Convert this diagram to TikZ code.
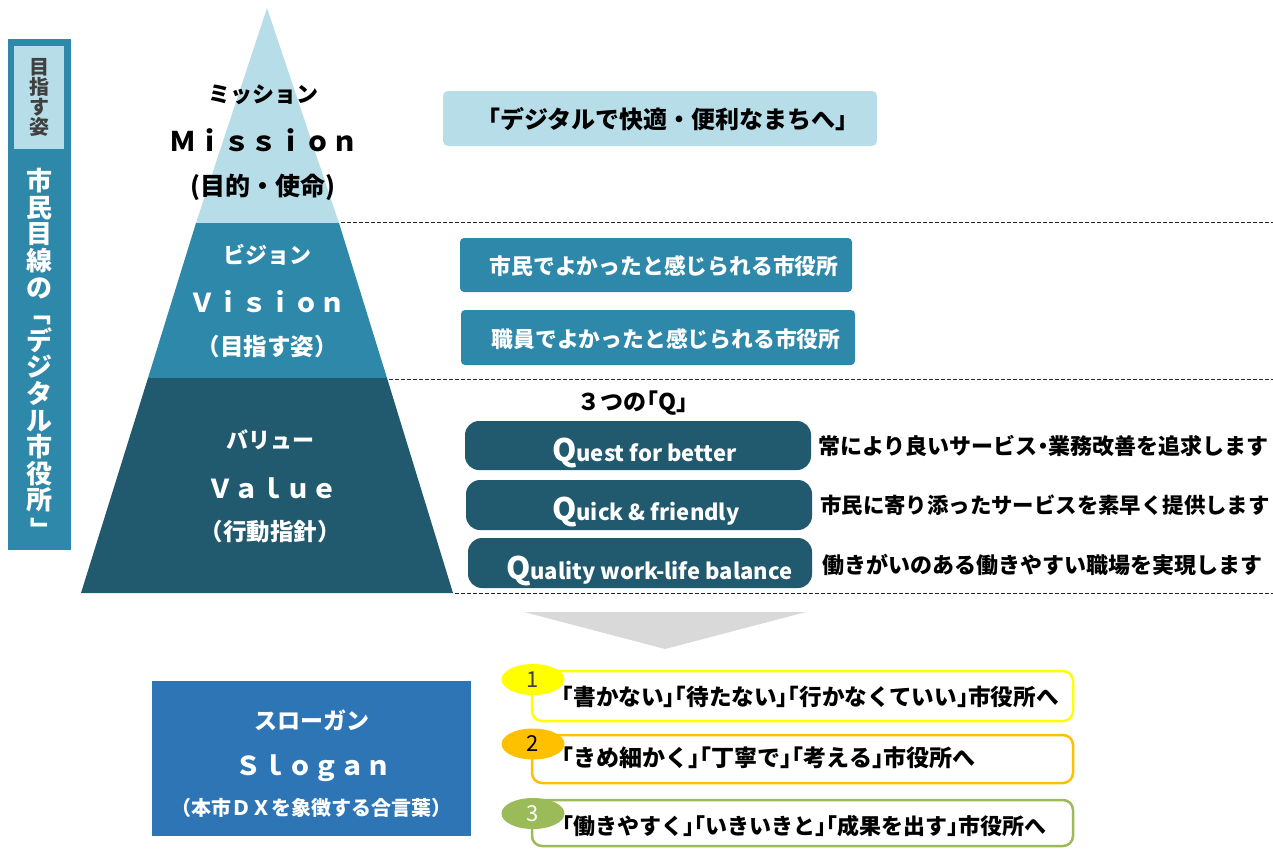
\documentclass[tikz,border=0pt]{standalone}
\usepackage{fontspec}
\usepackage{graphicx}
\setmainfont{Noto Sans CJK JP}
\newfontfamily\hjp{Noto Sans CJK JP}[RawFeature=+halt]
\usetikzlibrary{shapes.geometric}
\definecolor{misblue}{HTML}{B7DEE8}
\definecolor{visteal}{HTML}{2E88A9}
\definecolor{valdark}{HTML}{215A6E}
\definecolor{slogblue}{HTML}{2E75B6}
\definecolor{arrgray}{HTML}{D9D9D9}
\definecolor{ylw}{HTML}{FFFF00}
\definecolor{org}{HTML}{FFC000}
\definecolor{olv}{HTML}{9BBB59}
\newcommand{\fs}[1]{\fontsize{#1}{#1}\selectfont}
\newcommand{\bigQ}{{\fs{31}Q}}
\newcommand{\vbr}[1]{\rotatebox[origin=c]{-90}{#1}}
\begin{document}
\begin{tikzpicture}[x=1pt,y=-1pt]
    \tikzstyle{every node}=[inner sep=0pt,font=\bfseries]
    \tikzstyle{lbl}=[font=\bfseries\fs{22}]
    \tikzstyle{boxtext}=[font=\bfseries\fs{21.8}]
    \tikzstyle{halftext}=[font=\hjp\bfseries\fs{23}]
    \tikzstyle{sep}=[dash pattern=on 4pt off 2pt,line width=1pt,black!85]
    \tikzstyle{qbox}=[fill=valdark,rounded corners=14pt]
    \tikzstyle{sbox}=[line width=2.5pt,rounded corners=10pt,minimum width=541,fill=white]
    \tikzstyle{num}=[ellipse,minimum width=63,minimum height=31,font=\fs{22}]
    \useasboundingbox (0,0) rectangle (1273,849);
    % left bar
    \node[fill=visteal,minimum width=63,minimum height=511,anchor=north west] (bar) at (8,39) {};
    \node[fill=misblue,minimum width=50,minimum height=103,anchor=north west] (barhead) at (14,46) {};
    \node[text=black!75,align=center,font=\bfseries\fs{20}] (goal) at (barhead.center) {目\\指\\す\\姿};
    \node[text=white,align=center,font=\bfseries\fontsize{26}{26.6}\selectfont] (bartext) at (39.5,356)
        {市\\民\\目\\線\\の\\\vbr{「}\\デ\\ジ\\タ\\ル\\市\\役\\所\\\vbr{」}};
    % pyramid
    \fill[misblue] (267,8) -- (339,223) -- (196,223) -- cycle;
    \fill[visteal] (196,223) -- (339,223) -- (387,378) -- (148,378) -- cycle;
    \fill[valdark] (148,378) -- (387,378) -- (453,593) -- (81,593) -- cycle;
    \draw[sep] (341,222) -- (1273,222);
    \draw[sep] (389,379) -- (1273,379);
    \draw[sep] (455,593) -- (1273,593);
    \node[lbl] (mis1) at (263,95) {ミッション};
    \node[lbl,font=\bfseries\fs{27}] (mis2) at (264,140) {Ｍｉｓｓｉｏｎ};
    \node[lbl,font=\bfseries\fs{25}] (mis3) at (263,187) {(目的・使命)};
    \node[lbl,text=white] (vis1) at (267,255) {ビジョン};
    \node[lbl,text=white,font=\bfseries\fs{26}] (vis2) at (267,302) {Ｖｉｓｉｏｎ};
    \node[lbl,text=white,font=\bfseries\fs{23.5}] (vis3) at (267,347) {（目指す姿）};
    \node[lbl,text=white] (val1) at (270,440) {バリュー};
    \node[lbl,text=white,font=\bfseries\fs{26}] (val2) at (272,488) {Ｖａｌｕｅ};
    \node[lbl,text=white,font=\bfseries\fs{23.5}] (val3) at (270,532) {（行動指針）};
    % mission / vision boxes
    \node[fill=misblue,rounded corners=5pt,minimum width=434,minimum height=55] (mbox) at (660,118.5) {};
    \node[font=\bfseries\fs{24}] (mtext) at (668,119) {「デジタルで快適・便利なまちへ」};
    \node[fill=visteal,rounded corners=4pt,minimum width=392,minimum height=54] (vbox1) at (656,265) {};
    \node[boxtext,text=white] (vtext1) at (664,266) {市民でよかったと感じられる市役所};
    \node[fill=visteal,rounded corners=4pt,minimum width=394,minimum height=55] (vbox2) at (658,337.5) {};
    \node[boxtext,text=white] (vtext2) at (666,339) {職員でよかったと感じられる市役所};
    % value: three Q
    \node[halftext] (three) at (633,403) {３つの「Q」};
    \node[qbox,minimum width=346,minimum height=49] (q1) at (638,445.5) {};
    \node[qbox,minimum width=346,minimum height=50] (q2) at (639,505) {};
    \node[qbox,minimum width=344,minimum height=50] (q3) at (640,563) {};
    \node[text=white,font=\bfseries\fs{22},anchor=base west] (qt1) at (552,461) {\bigQ uest for better};
    \node[text=white,font=\bfseries\fs{22},anchor=base west] (qt2) at (552,520) {\bigQ uick \& friendly};
    \node[text=white,font=\bfseries\fs{22},anchor=base west] (qt3) at (506,579) {\bigQ uality work-life balance};
    \node[halftext,font=\hjp\bfseries\fs{22},anchor=west] (qd1) at (818,446) {常により良いサービス・業務改善を追求します};
    \node[boxtext,font=\bfseries\fs{21.4},anchor=west] (qd2) at (820,505) {市民に寄り添ったサービスを素早く提供します};
    \node[boxtext,font=\bfseries\fs{22},anchor=west] (qd3) at (822,565) {働きがいのある働きやすい職場を実現します};
    % arrow down
    \fill[arrgray] (524,612) -- (806,612) -- (665,649) -- cycle;
    % slogan
    \node[fill=slogblue,minimum width=319,minimum height=155] (slog) at (311.5,758.5) {};
    \node[lbl,text=white,font=\bfseries\fs{23}] (slog1) at (312,720) {スローガン};
    \node[lbl,text=white,font=\bfseries\fs{26}] (slog2) at (313,768) {Ｓｌｏｇａｎ};
    \node[lbl,text=white,font=\bfseries\fs{20}] (slog3) at (311,808) {（本市ＤＸを象徴する合言葉）};
    \node[sbox,draw=ylw,minimum height=50] (s1) at (802.5,696) {};
    \node[sbox,draw=org,minimum height=48] (s2) at (802.5,759) {};
    \node[sbox,draw=olv,minimum height=46] (s3) at (802.5,823) {};
    \node[num,fill=ylw,text=black!75] (n1) at (533,679.5) {1};
    \node[num,fill=org,text=black] (n2) at (533,744) {2};
    \node[num,fill=olv,text=white] (n3) at (533,813.5) {3};
    \node[halftext,font=\hjp\bfseries\fs{22.6},anchor=west] (st1) at (562,697) {「書かない」「待たない」「行かなくていい」市役所へ};
    \node[halftext,anchor=west] (st2) at (562,758) {「きめ細かく」「丁寧で」「考える」市役所へ};
    \node[halftext,font=\hjp\bfseries\fs{22},anchor=west] (st3) at (562,826) {「働きやすく」「いきいきと」「成果を出す」市役所へ};
\end{tikzpicture}
\end{document}
